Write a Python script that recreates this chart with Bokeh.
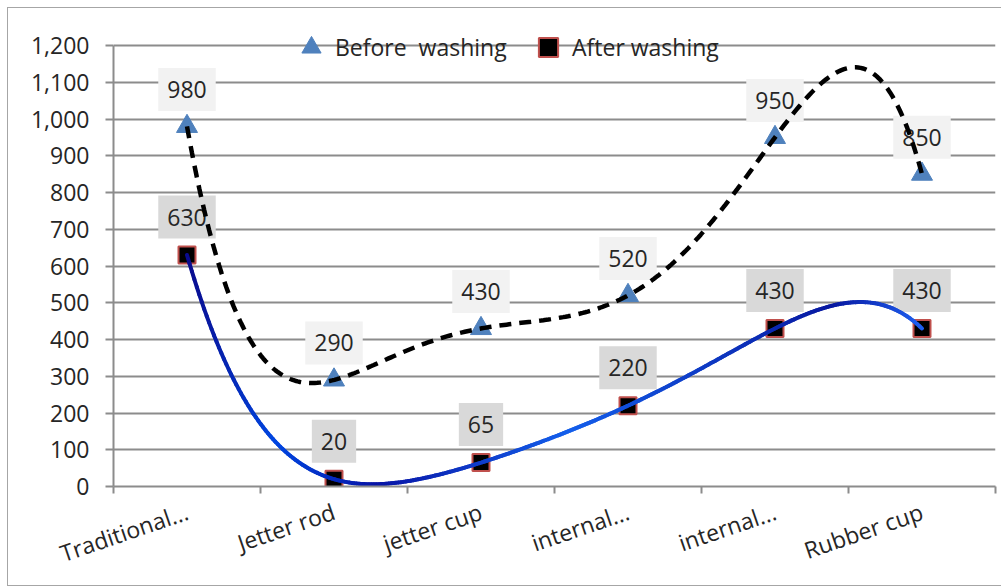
import numpy as np
from bokeh.plotting import figure
from bokeh.models import Range1d, FixedTicker, NumeralTickFormatter, Legend, LegendItem
from bokeh.core.properties import value
from bokeh.embed import file_html
from bokeh.resources import INLINE

categories = ["Traditional...", "Jetter rod", "jetter cup", "internal...", "internal...", "Rubber cup"]
before = [980, 290, 430, 520, 950, 850]
after = [630, 20, 65, 220, 430, 430]
y_ticks = [0, 100, 200, 300, 400, 500, 600, 700, 800, 900, 1000, 1100, 1200]

FONT = "Open Sans"
FS = "23px"
TXT = "#262626"
GRID = "#8c8c8c"
xs = list(range(1, len(categories) + 1))

p = figure(width=994, height=579, output_backend="svg", toolbar_location=None,
           x_range=Range1d(0.5, 6.5), y_range=Range1d(0, 1260),
           min_border_left=105, min_border_right=7, min_border_top=15, min_border_bottom=101)
p.styles = {"margin-left": "7px", "margin-top": "7px",
            "border-left": "1px solid #a6a6a6", "border-top": "1px solid #a6a6a6",
            "border-bottom": "1px solid #a6a6a6"}
p.outline_line_color = None
p.background_fill_color = "white"
p.border_fill_color = "white"

# axes
p.xaxis.ticker = FixedTicker(ticks=xs, minor_ticks=[x - 0.5 for x in xs] + [xs[-1] + 0.5])
p.xaxis.major_label_overrides = {x: c for x, c in zip(xs, categories)}
p.xaxis.major_label_orientation = 0.33
p.xaxis.major_tick_line_color = None
p.xaxis.minor_tick_line_color = GRID
p.xaxis.minor_tick_line_width = 2
p.xaxis.minor_tick_out = 7
p.xaxis.minor_tick_in = 0
p.xaxis.axis_line_color = GRID
p.xaxis.axis_line_width = 2
p.xaxis.major_label_text_font = FONT
p.xaxis.major_label_text_font_size = FS
p.xaxis.major_label_text_color = TXT
p.xaxis.major_label_standoff = 17

p.yaxis.ticker = FixedTicker(ticks=y_ticks)
p.yaxis.bounds = (y_ticks[0], y_ticks[-1])
p.yaxis.formatter = NumeralTickFormatter(format="0,0")
p.yaxis.major_tick_out = 8
p.yaxis.major_tick_in = 0
p.yaxis.minor_tick_line_color = None
p.yaxis.major_tick_line_color = GRID
p.yaxis.major_tick_line_width = 2
p.yaxis.axis_line_color = GRID
p.yaxis.axis_line_width = 2
p.yaxis.major_label_text_font = FONT
p.yaxis.major_label_text_font_size = FS
p.yaxis.major_label_text_color = TXT
p.yaxis.major_label_standoff = 16

p.xgrid.grid_line_color = None
p.ygrid.grid_line_color = GRID
p.ygrid.grid_line_width = 2

# data labels
p.text(x=xs, y=before, text=[str(v) for v in before], y_offset=-37,
       text_align="center", text_baseline="middle", text_font=value(FONT),
       text_font_size=FS, text_color=TXT,
       background_fill_color="#f2f2f2", padding=[9, 9, 13, 13])
p.text(x=xs, y=after, text=[str(v) for v in after], y_offset=-38,
       text_align="center", text_baseline="middle", text_font=value(FONT),
       text_font_size=FS, text_color=TXT,
       background_fill_color="#d9d9d9", padding=[9, 9, 13, 13])

# markers
r_before = p.scatter(xs, before, marker="triangle", size=21, fill_color="#4f81bd",
                     line_color="#4f81bd")
r_after = p.scatter(xs, after, marker="square", size=17, fill_color="black",
                    line_color="#c0504d", line_width=2)

# polynomial trendlines (order 5)
xd = np.linspace(1, 6, 300)
cb = np.polyfit(xs, before, 5)
ca = np.polyfit(xs, after, 5)
yb = np.polyval(cb, xd)
ya = np.polyval(ca, xd)

p.line(xd, yb, line_color="black", line_width=4.5, line_dash="12 8")

# gradient blue line as segments
stops_x = [1.0, 1.6, 2.3, 3.6, 5.4, 6.0]
stops_c = [(10, 10, 140), (0, 70, 225), (8, 20, 165), (20, 95, 235), (8, 24, 160), (30, 95, 240)]
def col(x):
    for i in range(len(stops_x) - 1):
        if stops_x[i] <= x <= stops_x[i + 1]:
            t = (x - stops_x[i]) / (stops_x[i + 1] - stops_x[i])
            c = [int(round(stops_c[i][k] + t * (stops_c[i + 1][k] - stops_c[i][k]))) for k in range(3)]
            return "#%02x%02x%02x" % tuple(c)
    return "#%02x%02x%02x" % stops_c[-1]
seg_x = [[xd[i], xd[i + 1]] for i in range(len(xd) - 1)]
seg_y = [[ya[i], ya[i + 1]] for i in range(len(xd) - 1)]
seg_c = [col(0.5 * (xd[i] + xd[i + 1])) for i in range(len(xd) - 1)]
p.multi_line(xs=seg_x, ys=seg_y, line_color=seg_c, line_width=4, line_cap="round")

def make_legend(label, rend, loc):
    lg = Legend(items=[LegendItem(label=label, renderers=[rend])],
                orientation="horizontal", location=loc)
    lg.background_fill_alpha = 0
    lg.border_line_color = None
    lg.padding = 0
    lg.margin = 0
    lg.label_standoff = 0
    lg.glyph_width = 48
    lg.glyph_height = 48
    lg.label_text_font = FONT
    lg.label_text_font_size = FS
    lg.label_text_color = TXT
    p.add_layout(lg, "center")

make_legend("Before  washing", r_before, (174, 415))
make_legend("After washing", r_after, (411, 415))

open("out.html", "w").write(file_html(p, INLINE))
